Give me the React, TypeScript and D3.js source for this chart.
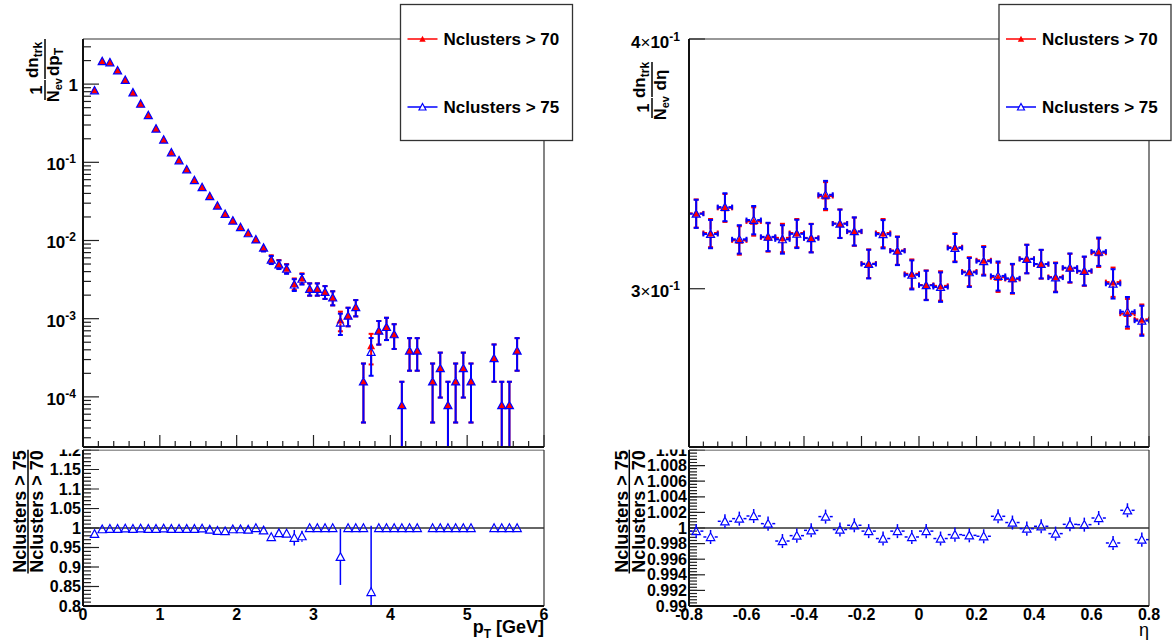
import React from "react";
import * as d3 from "d3";

const FONT = "'Liberation Sans', Arial, Helvetica, sans-serif";
const RED = "#ff0000";
const BLUE = "#0000ff";

// ---------- pT panel data ----------
const ptCenters = [0.15,0.25,0.35,0.45,0.55,0.65,0.75,0.85,0.95,1.05,1.15,1.25,1.35,1.45,1.55,1.65,1.75,1.85,1.95,2.05,2.15,2.25,2.35,2.45,2.55,2.65,2.75,2.85,2.95,3.05,3.15,3.25,3.35,3.45,3.55,3.65,3.75,3.85,3.95,4.05,4.15,4.25,4.35,4.55,4.65,4.75,4.85,4.95,5.05,5.35,5.45,5.55,5.65];
const ptVals70 = [0.84,1.97,1.90,1.50,1.13,0.78,0.56,0.40,0.27,0.195,0.134,0.106,0.081,0.059,0.048,0.037,0.028,0.022,0.018,0.0148,0.0124,0.0103,0.0081,0.0058,0.0050,0.0044,0.0028,0.0033,0.0024,0.0024,0.0022,0.00186,0.00096,0.00109,0.0014,0.000157,0.00045,0.0007,0.00078,0.00063,0.000078,0.00039,0.00039,0.000157,0.000233,0.000078,0.000157,0.000233,0.000157,0.000312,0.000078,0.000078,0.00039];
const ptErrs70 = [0.008,0.0125,0.012,0.011,0.0094,0.0078,0.0066,0.0056,0.0046,0.0039,0.0032,0.0029,0.0025,0.0021,0.0019,0.0017,0.0015,0.0013,0.0012,0.0011,0.0010,0.0009,0.0008,0.00067,0.00062,0.00059,0.00047,0.0005,0.00043,0.00043,0.00041,0.00038,0.00027,0.00029,0.00033,0.00011,0.00019,0.000234,0.000247,0.00022,0.000078,0.000174,0.000174,0.00011,0.000135,0.000078,0.00011,0.000135,0.00011,0.000156,0.000078,0.000078,0.000174];
const ptRatio = [0.985,0.997,0.998,0.998,0.999,0.998,0.999,0.998,0.998,0.999,0.998,0.998,0.998,0.998,0.999,0.996,0.993,0.992,0.997,0.997,0.996,1.0,0.994,0.977,0.987,0.986,0.975,0.979,1,1,1,1,0.926,1,1,1,0.836,1,1,1,1,1,1,1,1,1,1,1,1,1,1,1,1];
const ptRatioErr = [0.003,0.001,0.001,0.001,0.001,0.001,0.001,0.001,0.001,0.001,0.001,0.002,0.002,0.002,0.002,0.003,0.003,0.003,0.003,0.004,0.004,0.004,0.005,0.01,0.008,0.008,0.02,0.014,0,0,0,0,0.072,0,0,0,0.17,0,0,0,0,0,0,0,0,0,0,0,0,0,0,0,0];

// ---------- eta panel data ----------
const etaCenters = [-0.775,-0.725,-0.675,-0.625,-0.575,-0.525,-0.475,-0.425,-0.375,-0.325,-0.275,-0.225,-0.175,-0.125,-0.075,-0.025,0.025,0.075,0.125,0.175,0.225,0.275,0.325,0.375,0.425,0.475,0.525,0.575,0.625,0.675,0.725,0.775];
const etaVals70 = [0.3272,0.3199,0.3293,0.3172,0.3242,0.3183,0.3181,0.3199,0.3181,0.3338,0.3234,0.3204,0.3088,0.3199,0.3135,0.3052,0.3013,0.3010,0.3147,0.3060,0.3100,0.3040,0.3034,0.3105,0.3086,0.3041,0.3072,0.3061,0.3127,0.3023,0.2915,0.2896];
const etaErrs70 = [0.0053,0.0052,0.0053,0.0052,0.0053,0.0052,0.0052,0.0052,0.0052,0.0054,0.0053,0.0052,0.0051,0.0052,0.0051,0.0051,0.0051,0.0051,0.0051,0.0051,0.0051,0.0051,0.0051,0.0051,0.0051,0.0051,0.0051,0.0051,0.0051,0.0051,0.0050,0.0050];
const etaRatio = [0.9996,0.99885,1.00086,1.0012,1.00154,1.00056,0.99833,0.99902,0.9997,1.00146,0.9998,1.00035,0.9996,0.99865,0.9996,0.99885,0.9996,0.99865,0.99915,0.99906,0.99894,1.0015,1.0007,0.99992,1.00022,0.99928,1.00047,1.00043,1.00128,0.99808,1.00227,0.99851];
const etaRatioErr = [0.0009,0.0009,0.0009,0.0009,0.0009,0.0009,0.0009,0.0009,0.0009,0.0009,0.0009,0.0009,0.0009,0.0009,0.0009,0.0009,0.0009,0.0009,0.0009,0.0009,0.0009,0.0009,0.0009,0.0009,0.0009,0.0009,0.0009,0.0009,0.0009,0.0009,0.0009,0.0009];
const etaHalfWidth = 0.025;

const legendLabels = ["Nclusters > 70", "Nclusters > 75"];
const ptRatioTicks = [0.8,0.85,0.9,0.95,1,1.05,1.1,1.15,1.2];
const etaRatioTicks = [0.99,0.992,0.994,0.996,0.998,1,1.002,1.004,1.006,1.008,1.01];
const ptAxisTicks = [0,1,2,3,4,5,6];
const etaAxisTicks = [-0.8,-0.6,-0.4,-0.2,0,0.2,0.4,0.6,0.8];

type EP = { cx: number; cy: number; yHi: number; yLo: number; xl?: number; xr?: number };

function tri(cx: number, cy: number, s: number) {
  return `M${cx},${cy - s}L${cx + s},${cy + s * 0.85}L${cx - s},${cy + s * 0.85}Z`;
}

function ErrMarks({ pts, color, sw, cap, gap }: { pts: EP[]; color: string; sw: number; cap: number; gap: number }) {
  const lines: JSX.Element[] = [];
  pts.forEach((p, i) => {
    const segs: number[][] = [];
    if (p.yHi < p.cy - gap) {
      segs.push([p.cx, p.yHi, p.cx, p.cy - gap]);
      if (cap > 0) segs.push([p.cx - cap, p.yHi, p.cx + cap, p.yHi]);
    }
    if (p.yLo > p.cy + gap) {
      segs.push([p.cx, p.cy + gap, p.cx, p.yLo]);
      if (cap > 0) segs.push([p.cx - cap, p.yLo, p.cx + cap, p.yLo]);
    }
    if (p.xl !== undefined && p.xr !== undefined) {
      if (p.xl < p.cx - gap) {
        segs.push([p.xl, p.cy, p.cx - gap, p.cy]);
        if (cap > 0) segs.push([p.xl, p.cy - cap, p.xl, p.cy + cap]);
      }
      if (p.xr > p.cx + gap) {
        segs.push([p.cx + gap, p.cy, p.xr, p.cy]);
        if (cap > 0) segs.push([p.xr, p.cy - cap, p.xr, p.cy + cap]);
      }
    }
    segs.forEach((s, j) =>
      lines.push(<line key={`${i}-${j}`} x1={s[0]} y1={s[1]} x2={s[2]} y2={s[3]} stroke={color} strokeWidth={sw} />)
    );
  });
  return <g>{lines}</g>;
}

function Frame({ x0, x1, y0, y1 }: { x0: number; x1: number; y0: number; y1: number }) {
  return (
    <g>
      <line x1={x0} y1={y0} x2={x1} y2={y0} stroke="#333" strokeWidth={1.2} />
      <line x1={x1} y1={y0} x2={x1} y2={y1} stroke="#333" strokeWidth={1.2} />
      <line x1={x0} y1={y1} x2={x1} y2={y1} stroke="#111" strokeWidth={2} />
      <line x1={x0} y1={y0} x2={x0} y2={y1} stroke="#111" strokeWidth={2} />
    </g>
  );
}

function Legend({ x, y, w, h }: { x: number; y: number; w: number; h: number }) {
  const rows = [y + 34.5, y + 102.5];
  return (
    <g>
      <rect x={x} y={y} width={w} height={h} fill="white" stroke="#333" strokeWidth={1.3} />
      <line x1={x + 7} x2={x + 37} y1={rows[0]} y2={rows[0]} stroke={RED} strokeWidth={1.5} />
      <path d={tri(x + 22, rows[0], 3.2)} fill={RED} />
      <text x={x + 43} y={rows[0] + 6} fontSize={17} fontWeight="bold" fontFamily={FONT}>{legendLabels[0]}</text>
      <line x1={x + 7} x2={x + 37} y1={rows[1]} y2={rows[1]} stroke={BLUE} strokeWidth={1.5} />
      <path d={tri(x + 22, rows[1], 3.5)} fill="white" stroke={BLUE} strokeWidth={1.2} />
      <text x={x + 43} y={rows[1] + 6} fontSize={17} fontWeight="bold" fontFamily={FONT}>{legendLabels[1]}</text>
    </g>
  );
}

export default function App() {
  // Left panels
  const xL = d3.scaleLinear().domain([0, 6]).range([83, 544]);
  const yL = d3.scaleLog().domain([2.285e-5, 3.776]).range([447, 39]);
  const yLr = d3.scaleLinear().domain([0.8, 1.2]).range([606, 450]);
  // Right panels
  const xR = d3.scaleLinear().domain([-0.8, 0.8]).range([689, 1149]);
  const yR = d3.scaleLog().domain([0.25, 0.4]).range([447, 39]);
  const yRr = d3.scaleLinear().domain([0.99, 1.01]).range([606, 450]);

  const logY = (sc: any, v: number) => (v > 0 ? sc(v) : 1000);

  const pt70: EP[] = ptCenters.map((x, i) => ({
    cx: xL(x), cy: yL(ptVals70[i]),
    yHi: yL(ptVals70[i] + ptErrs70[i]),
    yLo: logY(yL, ptVals70[i] - ptErrs70[i]),
  }));
  const ptVals75 = ptVals70.map((v, i) => v * ptRatio[i]);
  const pt75: EP[] = ptCenters.map((x, i) => ({
    cx: xL(x), cy: yL(ptVals75[i]),
    yHi: yL(ptVals75[i] + ptErrs70[i]),
    yLo: logY(yL, ptVals75[i] - ptErrs70[i]),
  }));
  const ptR: EP[] = ptCenters.map((x, i) => ({
    cx: xL(x), cy: yLr(ptRatio[i]),
    yHi: yLr(ptRatio[i] + ptRatioErr[i]),
    yLo: yLr(ptRatio[i] - ptRatioErr[i]),
  }));

  const eta70: EP[] = etaCenters.map((x, i) => ({
    cx: xR(x), cy: yR(etaVals70[i]),
    yHi: yR(etaVals70[i] + etaErrs70[i]), yLo: yR(etaVals70[i] - etaErrs70[i]),
    xl: xR(x - etaHalfWidth), xr: xR(x + etaHalfWidth),
  }));
  const etaVals75 = etaVals70.map((v, i) => v * etaRatio[i]);
  const eta75: EP[] = etaCenters.map((x, i) => ({
    cx: xR(x), cy: yR(etaVals75[i]),
    yHi: yR(etaVals75[i] + etaErrs70[i]), yLo: yR(etaVals75[i] - etaErrs70[i]),
    xl: xR(x - etaHalfWidth), xr: xR(x + etaHalfWidth),
  }));
  const etaR: EP[] = etaCenters.map((x, i) => ({
    cx: xR(x), cy: yRr(etaRatio[i]),
    yHi: yRr(etaRatio[i] + etaRatioErr[i]), yLo: yRr(etaRatio[i] - etaRatioErr[i]),
    xl: xR(x - etaHalfWidth), xr: xR(x + etaHalfWidth),
  }));

  const logMajor = [1e-4, 1e-3, 1e-2, 1e-1, 1];
  const logMinor: number[] = [];
  for (let k = -5; k <= 0; k++) for (let m = 2; m <= 9; m++) {
    const v = m * Math.pow(10, k);
    if (v > 2.285e-5 && v < 3.776) logMinor.push(v);
  }
  const ptMinorX = d3.range(0, 6.001, 0.2);
  const etaMinorX = d3.range(-0.8, 0.8001, 0.05);
  const ptRatioMinor = d3.range(0.8, 1.2001, 0.01);
  const etaRatioMinor = d3.range(0.99, 1.01001, 0.0004);

  const tickCol = "#222";

  return (
    <svg width={1176} height={644} style={{ position: "absolute", left: 0, top: 0, background: "white" }} fontFamily={FONT}>
      <defs>
        <clipPath id="cLt"><rect x={83} y={39} width={461} height={408} /></clipPath>
        <clipPath id="cLr"><rect x={83} y={450} width={461} height={156} /></clipPath>
        <clipPath id="cRt"><rect x={689} y={39} width={460} height={408} /></clipPath>
        <clipPath id="cRr"><rect x={689} y={450} width={460} height={156} /></clipPath>
        <clipPath id="cPad"><rect x={0} y={449.5} width={1176} height={200} /></clipPath>
      </defs>
      <rect x={0} y={0} width={1176} height={644} fill="white" />

      {/* ===== Left top panel ===== */}
      <g>
        {logMajor.map((v) => (
          <line key={`lm${v}`} x1={83} x2={99} y1={yL(v)} y2={yL(v)} stroke={tickCol} strokeWidth={1.2} />
        ))}
        {logMinor.map((v) => (
          <line key={`ln${v}`} x1={83} x2={91} y1={yL(v)} y2={yL(v)} stroke={tickCol} strokeWidth={1.2} />
        ))}
        {ptMinorX.map((v) => {
          const major = Math.abs(v - Math.round(v)) < 1e-6;
          return <line key={`px${v}`} x1={xL(v)} x2={xL(v)} y1={447} y2={447 - (major ? 12 : 6)} stroke={tickCol} strokeWidth={1.2} />;
        })}
        {logMajor.map((v) => {
          const e = Math.round(Math.log10(v));
          return e === 0 ? (
            <text key={`lt${v}`} x={78} y={yL(v) + 7} textAnchor="end" fontSize={17} fontWeight="bold">1</text>
          ) : (
            <text key={`lt${v}`} x={76} y={yL(v) + 8} textAnchor="end" fontSize={17} fontWeight="bold">
              10<tspan dy={-7} fontSize={12}>{`-${-e}`}</tspan>
            </text>
          );
        })}
        <g clipPath="url(#cLt)">
          <ErrMarks pts={pt70} color={RED} sw={2} cap={2.5} gap={3.5} />
          {pt70.map((p, i) => <path key={`r${i}`} d={tri(p.cx, p.cy, 4)} fill={RED} />)}
          <ErrMarks pts={pt75} color={BLUE} sw={2} cap={2.5} gap={3.5} />
          {pt75.map((p, i) => <path key={`b${i}`} d={tri(p.cx, p.cy, 4)} fill="none" stroke={BLUE} strokeWidth={1.2} />)}
        </g>
        <Frame x0={83} x1={544} y0={39} y1={447} />
        <g transform="translate(45,100) rotate(-90)" fontWeight="bold">
          <text x={10} y={-3} textAnchor="middle" fontSize={16}>1</text>
          <line x1={0} x2={20} y1={0} y2={0} stroke="black" strokeWidth={1.5} />
          <text x={10} y={14} textAnchor="middle" fontSize={16}>N<tspan fontSize={11} dy={3}>ev</tspan></text>
          <text x={40} y={-7} textAnchor="middle" fontSize={17}>dn<tspan fontSize={12} dy={4}>trk</tspan></text>
          <line x1={21} x2={61} y1={0} y2={0} stroke="black" strokeWidth={1.5} />
          <text x={38} y={14} textAnchor="middle" fontSize={17}>dp<tspan fontSize={12} dy={4}>T</tspan></text>
        </g>
      </g>

      {/* ===== Left ratio panel ===== */}
      <g clipPath="url(#cPad)">
        {ptRatioMinor.map((v) => (
          <line key={`rm${v}`} x1={83} x2={91} y1={yLr(v)} y2={yLr(v)} stroke={tickCol} strokeWidth={1.2} />
        ))}
        {ptRatioTicks.map((v) => (
          <g key={`rt${v}`}>
            <line x1={83} x2={99} y1={yLr(v)} y2={yLr(v)} stroke={tickCol} strokeWidth={1.2} />
            <text x={81} y={yLr(v) + 5.5} textAnchor="end" fontSize={16} fontWeight="bold">{String(v)}</text>
          </g>
        ))}
        <line x1={83} x2={544} y1={yLr(1)} y2={yLr(1)} stroke="#333" strokeWidth={1.5} />
        <g clipPath="url(#cLr)">
          <ErrMarks pts={ptR} color={BLUE} sw={1.5} cap={0} gap={4} />
          {ptR.map((p, i) => <path key={`rr${i}`} d={tri(p.cx, p.cy, 4.2)} fill="none" stroke={BLUE} strokeWidth={1.2} />)}
        </g>
        <Frame x0={83} x1={544} y0={450} y1={606} />
        {ptAxisTicks.map((v) => (
          <text key={`pxl${v}`} x={xL(v)} y={620} textAnchor="middle" fontSize={16} fontWeight="bold">{String(v)}</text>
        ))}
        <text x={544} y={633} textAnchor="end" fontSize={18} fontWeight="bold">
          p<tspan fontSize={12} dy={5}>T</tspan><tspan dy={-5}> [GeV]</tspan>
        </text>
        <g transform="translate(28,511.5) rotate(-90)" fontWeight="bold" fontSize={18}>
          <text x={0} y={-2} textAnchor="middle">{legendLabels[1]}</text>
          <line x1={-62} x2={62} y1={0} y2={0} stroke="black" strokeWidth={1.5} />
          <text x={0} y={15} textAnchor="middle">{legendLabels[0]}</text>
        </g>
      </g>

      {/* ===== Right top panel ===== */}
      <g>
        {[0.3, 0.4].map((v) => (
          <line key={`rtk${v}`} x1={689} x2={705} y1={yR(v)} y2={yR(v)} stroke={tickCol} strokeWidth={1.2} />
        ))}
        {[0.3, 0.4].map((v) => (
          <text key={`rtl${v}`} x={680} y={yR(v) + 8.5} textAnchor="end" fontSize={17} fontWeight="bold">
            {v === 0.3 ? "3" : "4"}<tspan fontWeight="normal">×</tspan>10<tspan dy={-7} fontSize={12}>-1</tspan>
          </text>
        ))}
        {etaMinorX.map((v) => {
          const major = Math.abs(v / 0.2 - Math.round(v / 0.2)) < 1e-6;
          return <line key={`ex${v}`} x1={xR(v)} x2={xR(v)} y1={447} y2={447 - (major ? 11 : 5.5)} stroke={tickCol} strokeWidth={1.2} />;
        })}
        <g clipPath="url(#cRt)">
          <ErrMarks pts={eta70} color={RED} sw={2} cap={2.5} gap={3.5} />
          {eta70.map((p, i) => <path key={`er${i}`} d={tri(p.cx, p.cy, 4)} fill={RED} />)}
          <ErrMarks pts={eta75} color={BLUE} sw={2} cap={2.5} gap={3.5} />
          {eta75.map((p, i) => <path key={`eb${i}`} d={tri(p.cx, p.cy, 4)} fill="none" stroke={BLUE} strokeWidth={1.2} />)}
        </g>
        <Frame x0={689} x1={1149} y0={39} y1={447} />
        <g transform="translate(652,118) rotate(-90)" fontWeight="bold">
          <text x={10} y={-3} textAnchor="middle" fontSize={16}>1</text>
          <line x1={0} x2={20} y1={0} y2={0} stroke="black" strokeWidth={1.5} />
          <text x={10} y={14} textAnchor="middle" fontSize={16}>N<tspan fontSize={11} dy={3}>ev</tspan></text>
          <text x={38} y={-7} textAnchor="middle" fontSize={17}>dn<tspan fontSize={12} dy={4}>trk</tspan></text>
          <line x1={21} x2={56} y1={0} y2={0} stroke="black" strokeWidth={1.5} />
          <text x={38} y={14} textAnchor="middle" fontSize={17}>dη</text>
        </g>
      </g>

      {/* ===== Right ratio panel ===== */}
      <g clipPath="url(#cPad)">
        {etaRatioMinor.map((v) => (
          <line key={`erm${v}`} x1={689} x2={697} y1={yRr(v)} y2={yRr(v)} stroke={tickCol} strokeWidth={1.2} />
        ))}
        {etaRatioTicks.map((v) => (
          <g key={`ert${v}`}>
            <line x1={689} x2={705} y1={yRr(v)} y2={yRr(v)} stroke={tickCol} strokeWidth={1.2} />
            <text x={687} y={yRr(v) + 5.5} textAnchor="end" fontSize={16} fontWeight="bold">{String(v)}</text>
          </g>
        ))}
        <line x1={689} x2={1149} y1={yRr(1)} y2={yRr(1)} stroke="#333" strokeWidth={1.5} />
        <g clipPath="url(#cRr)">
          <ErrMarks pts={etaR} color={BLUE} sw={1.5} cap={0} gap={4.2} />
          {etaR.map((p, i) => <path key={`err${i}`} d={tri(p.cx, p.cy, 4.2)} fill="none" stroke={BLUE} strokeWidth={1.2} />)}
        </g>
        <Frame x0={689} x1={1149} y0={450} y1={606} />
        {etaAxisTicks.map((v) => (
          <text key={`exl${v}`} x={xR(v)} y={620} textAnchor="middle" fontSize={16} fontWeight="bold">{String(Math.round(v * 10) / 10)}</text>
        ))}
        <text x={1149} y={636} textAnchor="end" fontSize={18}>η</text>
        <g transform="translate(629.3,511.5) rotate(-90)" fontWeight="bold" fontSize={18}>
          <text x={0} y={-1.5} textAnchor="middle">{legendLabels[1]}</text>
          <line x1={-62} x2={62} y1={0} y2={0} stroke="black" strokeWidth={1.5} />
          <text x={0} y={15.5} textAnchor="middle">{legendLabels[0]}</text>
        </g>
      </g>

      <Legend x={400.5} y={4.5} w={172} h={136} />
      <Legend x={999} y={4.5} w={172} h={136} />
    </svg>
  );
}
